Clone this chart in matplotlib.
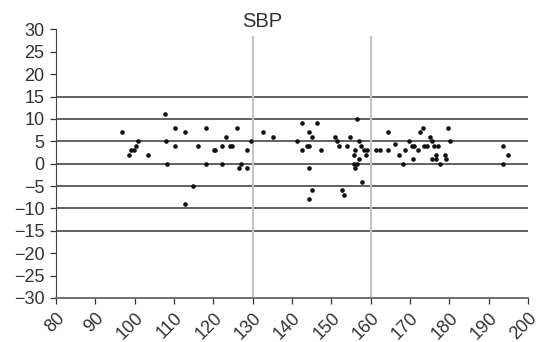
import numpy as np
import matplotlib.pyplot as plt

plt.rcParams['font.family'] = ['Liberation Sans', 'DejaVu Sans']

# SBP values (x) and differences (y)
sbp = [96.7, 98.4, 99.0, 99.8, 100.2, 100.9, 103.3, 107.8, 107.9, 108.1,
       110.2, 110.2, 112.7, 112.7, 114.7, 116.1, 118.1, 118.1, 120.1, 120.5,
       122.1, 122.1, 123.1, 124.2, 124.6, 126.0, 126.4, 127.1, 128.4, 128.4,
       129.5, 132.6, 135.1, 141.3, 142.5, 142.5, 143.7, 144.2, 144.3, 144.3,
       144.3, 145.0, 145.0, 146.4, 147.4, 150.9, 151.3, 151.8, 152.7, 153.3,
       153.9, 154.6, 155.8, 155.8, 156.0, 156.1, 156.5, 156.6, 157.0, 157.1,
       157.5, 157.7, 158.3, 158.7, 159.1, 161.4, 162.4, 164.3, 164.3, 166.1,
       167.1, 168.7, 168.3, 169.6, 170.4, 171.1, 170.7, 172.0, 172.4, 173.3,
       173.4, 174.4, 175.0, 175.5, 176.0, 177.0, 175.6, 176.5, 176.7, 177.5,
       178.8, 179.1, 179.7, 180.2, 193.6, 194.8, 193.6]
diff = [7, 2, 3, 3, 4, 5, 2, 11, 5, 0,
        8, 4, 7, -9, -5, 4, 8, 0, 3, 3,
        4, 0, 6, 4, 4, 8, -1, 0, 3, -1,
        5, 7, 6, 5, 9, 3, 4, 4, 7, -1,
        -8, 6, -6, 9, 3, 6, 5, 4, -6, -7,
        4, 6, 2, 0, 3, -1, 0, 10, 5, 1,
        4, -4, 3, 2, 3, 3, 3, 7, 3, 4.4,
        2, 3, 0, 5, 4, 4, 1, 3, 7, 8,
        4, 4, 6, 5, 4, 4, 1, 1, 2, 0,
        2, 1, 8, 5, 4, 2, 0]

hlines = [15, 10, 5, 0, -5, -10, -15]
vlines = [130, 160]
xticks = list(range(80, 201, 10))
yticks = list(range(-30, 31, 5))

fig = plt.figure(figsize=(5.4, 3.42), dpi=100)
ax = fig.add_axes([0.104, 0.129, 0.874, 0.785])

for h in hlines:
    ax.axhline(h, color='#555555', lw=1.3, zorder=1)
for v in vlines:
    ax.axvline(v, ymax=0.97, color='#c4c4c4', lw=1.5, zorder=1)

ax.scatter(sbp, diff, s=11, color='#111111', zorder=3, linewidths=0)

ax.set_xlim(80, 200)
ax.set_ylim(-30, 30)
ax.set_xticks(xticks)
ax.set_yticks(yticks)
ax.set_xticklabels([str(t) for t in xticks], rotation=45, ha='right',
                   rotation_mode='anchor')

for s in ['top', 'right']:
    ax.spines[s].set_visible(False)
ax.spines['left'].set_color('#444444')
ax.spines['bottom'].set_color('#666666')
ax.spines['bottom'].set_linewidth(1.3)
ax.tick_params(axis='both', labelsize=13, colors='#333333', length=4.5,
               width=0.9, pad=4)

# title placed above the first vertical line
ax.text(132.3, 1.008, 'SBP', transform=ax.get_xaxis_transform(),
        ha='center', va='baseline', fontsize=14.5, color='#333333')

fig.savefig('out.png', dpi=100)
